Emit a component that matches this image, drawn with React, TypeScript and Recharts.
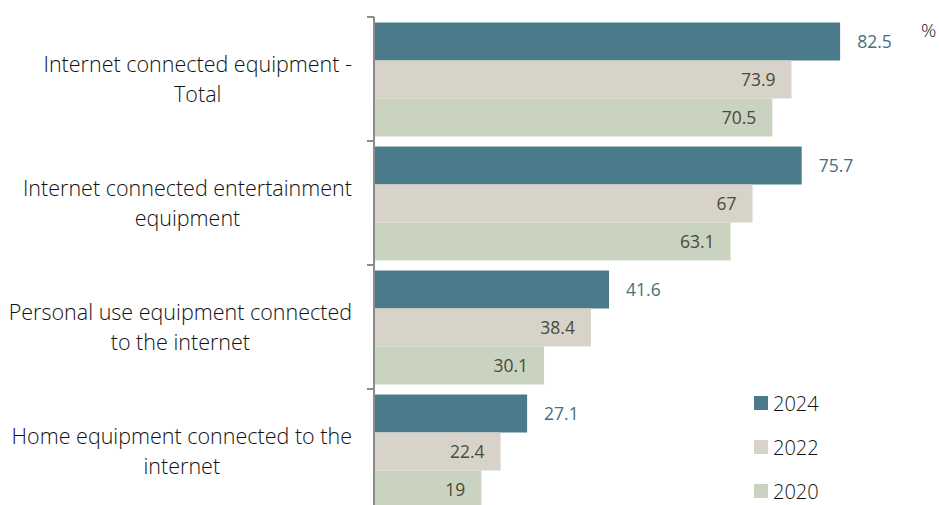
import { BarChart, Bar, XAxis, YAxis, Legend, LabelList } from "recharts";

const categoryLines = [
  ["Internet connected equipment -", "Total"],
  ["Internet connected entertainment", "equipment"],
  ["Personal use equipment connected", "to the internet"],
  ["Home equipment connected to the", "internet"],
];
const categories = categoryLines.map((l) => l.join(" "));
const values2024 = [82.5, 75.7, 41.6, 27.1];
const values2022 = [73.9, 67, 38.4, 22.4];
const values2020 = [70.5, 63.1, 30.1, 19];

const series = [
  { key: "y2024", name: "2024", color: "#4b7a8a" },
  { key: "y2022", name: "2022", color: "#d7d3c8" },
  { key: "y2020", name: "2020", color: "#c9d3c0" },
];

const data = categories.map((name, i) => ({
  name,
  y2024: values2024[i],
  y2022: values2022[i],
  y2020: values2020[i],
}));

const FONT = '"Open Sans", sans-serif';
const AXIS_X = 374;
const LABEL_RIGHT = 352;
const TOP = 17;
const PLOT_H = 496;
const BAND = PLOT_H / categories.length;
const CAT_SIZE = 21.5;

let ctx: CanvasRenderingContext2D | null = null;
function measure(text: string) {
  if (!ctx) ctx = document.createElement("canvas").getContext("2d");
  if (!ctx) return text.length * 10;
  ctx.font = `300 ${CAT_SIZE}px ${FONT}`;
  return ctx.measureText(text).width;
}

function CategoryTick(props: any) {
  const { y, payload } = props;
  const idx = payload.index ?? categories.indexOf(payload.value);
  const lines = categoryLines[idx] || [payload.value];
  const widest = Math.max(...lines.map(measure));
  const cx = LABEL_RIGHT - widest / 2;
  const last = idx === categories.length - 1;
  return (
    <g>
      <line x1={AXIS_X - 7} x2={AXIS_X} y1={y - BAND / 2} y2={y - BAND / 2} stroke="#8c8c8c" strokeWidth={2} />
      {last && (
        <line x1={AXIS_X - 7} x2={AXIS_X} y1={y + BAND / 2} y2={y + BAND / 2} stroke="#8c8c8c" strokeWidth={2} />
      )}
      <text textAnchor="middle" fill="#111" fontSize={CAT_SIZE} fontWeight={300} fontFamily={FONT}>
        {lines.map((l, i) => (
          <tspan key={i} x={cx} y={y - 15 + i * 30} dy="0.35em">
            {l}
          </tspan>
        ))}
      </text>
    </g>
  );
}

function renderLegend() {
  return (
    <div style={{ position: "absolute", left: 0, top: 0, width: 120, fontFamily: FONT, fontSize: 20, fontWeight: 300, color: "#111" }}>
      {series.map((s) => (
        <div key={s.key} style={{ display: "flex", alignItems: "center", height: 44 }}>
          <span style={{ width: 14, height: 14, background: s.color, marginRight: 5, display: "inline-block" }} />
          <span>{s.name}</span>
        </div>
      ))}
    </div>
  );
}

export default function App() {
  return (
    <div style={{ position: "absolute", left: 0, top: 0, width: 939, height: 505, overflow: "hidden", background: "#fff" }}>
      <BarChart
        width={939}
        height={TOP + PLOT_H + 7}
        data={data}
        layout="vertical"
        margin={{ top: TOP, right: 0, bottom: 7, left: 0 }}
        barCategoryGap={5.5}
        barGap={0}
      >
        <XAxis type="number" domain={[0, 100]} hide />
        <YAxis
          type="category"
          dataKey="name"
          width={AXIS_X}
          axisLine={{ stroke: "#8c8c8c", strokeWidth: 2 }}
          tickLine={false}
          tick={<CategoryTick />}
          interval={0}
        />
        <Legend
          content={renderLegend}
          wrapperStyle={{ position: "absolute", left: 754, top: 381, width: 0, height: 0 }}
        />
        {series.map((s, si) => (
          <Bar key={s.key} dataKey={s.key} name={s.name} fill={s.color} isAnimationActive={false}>
            <LabelList
              dataKey={s.key}
              position={si === 0 ? "right" : "insideRight"}
              offset={si === 0 ? 17 : 16}
              fill={si === 0 ? "#466f80" : "#4a4a3c"}
              fontSize={17.5}
              fontWeight={400}
              fontFamily={FONT}
            />
          </Bar>
        ))}
      </BarChart>
      <div style={{ position: "absolute", left: 921, top: 17, fontFamily: FONT, fontSize: 19, fontWeight: 300, color: "#111" }}>%</div>
    </div>
  );
}
